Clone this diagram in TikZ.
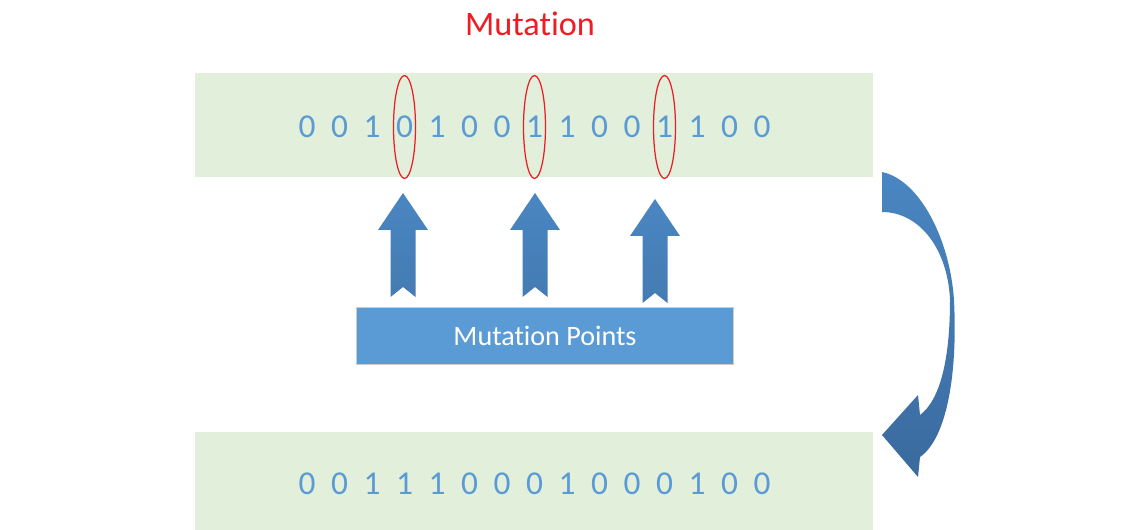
\documentclass[tikz,border=0pt]{standalone}
\usepackage{fontspec}
\setmainfont[Ligatures=NoCommon]{Carlito}
\usetikzlibrary{shapes.geometric}

\definecolor{bandgreen}{HTML}{E2EFDA}
\definecolor{digitblue}{HTML}{5B9BD5}
\definecolor{arrowblue}{HTML}{4A86C2}
\definecolor{arrowdark}{HTML}{3A6A9E}
\definecolor{markred}{HTML}{EE1C25}

\tikzset{
    band/.style={fill=bandgreen, minimum width=13.56cm, inner sep=0pt},
    digit/.style={text=digitblue, font=\fontsize{19}{20}\selectfont, inner sep=0pt},
    ringmark/.style={draw=markred, line width=0.7pt, ellipse, minimum width=0.44cm, minimum height=2.06cm, inner sep=0pt},
    pointbox/.style={fill=digitblue, draw=gray!40, minimum width=7.54cm, minimum height=1.14cm, text=white, font=\fontsize{16}{18}\selectfont},
    uparrow/.pic={
        \shade[top color=arrowblue, bottom color=arrowblue!92!black]
            (0,0) -- (25,37) -- (12.5,37) -- (12.5,104) -- (0,94) -- (-12.5,104) -- (-12.5,37) -- (-25,37) -- cycle;
    }
}

\begin{document}
\begin{tikzpicture}[x=0.02cm, y=-0.02cm]
    \useasboundingbox (0,0) rectangle (1143,530);

    \node (top) at (534,125) [band, minimum height=2.08cm] {};
    \node (bottom) at (534,481) [band, minimum height=1.96cm] {};
    \node (title) at (530,24) [text=markred, font=\fontsize{19.5}{22}\selectfont] {Mutation};

    \foreach \d [count=\i] in {0,0,1,0,1,0,0,1,1,0,0,1,1,0,0}
        \node (t\i) at ({307+32.5*(\i-1)},127) [digit] {\d};
    \foreach \d [count=\i] in {0,0,1,1,1,0,0,0,1,0,0,0,1,0,0}
        \node (b\i) at ({307+32.5*(\i-1)},484) [digit] {\d};

    \node (m1) at (t4) [ringmark] {};
    \node (m2) at (t8) [ringmark] {};
    \node (m3) at (t12) [ringmark] {};

    \node (points) at (545,336) [pointbox] {Mutation Points};

    \pic at (403,193) {uparrow};
    \pic at (535,193) {uparrow};
    \pic at (655,199) {uparrow};

    % curved arrow down to the new string
    \shade[top color=arrowblue, bottom color=arrowdark]
        (882,172) .. controls (920,180) and (950,240) .. (954,300)
        .. controls (958,380) and (945,440) .. (920,457)
        -- (918,477) -- (882,435) -- (918,395) -- (920,415)
        .. controls (940,400) and (950,360) .. (950,300)
        .. controls (948,250) and (920,212) .. (882,212) -- cycle;
\end{tikzpicture}
\end{document}
